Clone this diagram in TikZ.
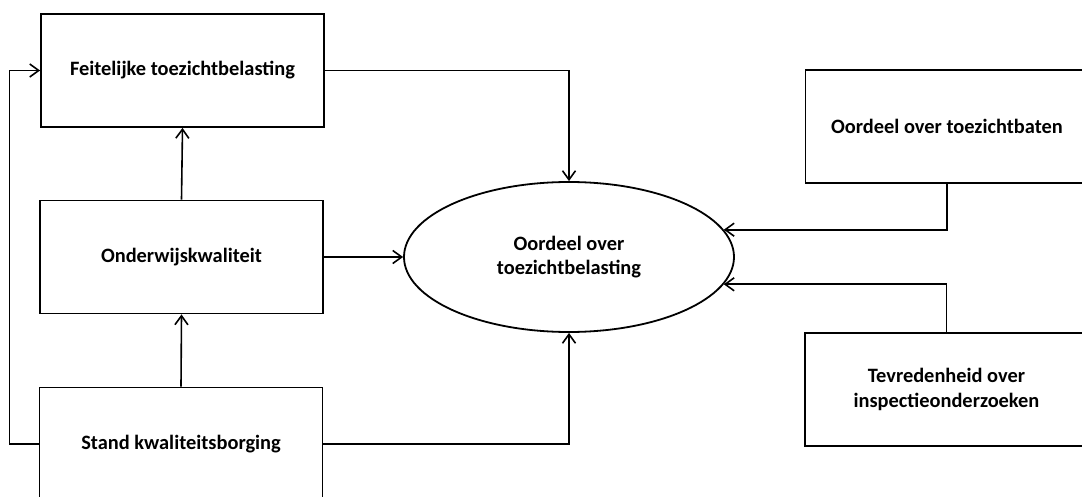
\documentclass[tikz,border=0pt]{standalone}
\usepackage{fontspec}
\setmainfont{Carlito}
\usetikzlibrary{shapes.geometric,arrows.meta}
\tikzstyle{blok}=[rectangle,draw,line width=1.8pt,minimum width=283pt,minimum height=113pt,align=center,inner sep=0pt,font=\bfseries\fontsize{20.4}{24.5}\selectfont]
\tikzstyle{pijl}=[line width=1.6pt,-{Straight Barb[length=9pt,width=13pt,line width=1.6pt]}]

\begin{document}
\begin{tikzpicture}[x=1pt,y=-1pt]
		\clip (0,0) rectangle (1082,497);
		\tikzstyle{oval}=[ellipse,draw,line width=1.8pt,minimum width=330pt,minimum height=150pt,align=center,inner sep=0pt,font=\bfseries\fontsize{20.4}{24.5}\selectfont]
		\node[blok] (feit) at (182.5, 70.5) {Feitelijke toezichtbelasting};
		\node[blok] (onder) at (181.5, 257) {Onderwijskwaliteit};
		\node[blok] (stand) at (181, 444) {Stand kwaliteitsborging};
		\node[oval] (oordeel) at (569, 257) {Oordeel over\\toezichtbelasting};
		\node[blok] (baten) at (947, 126.5) {Oordeel over toezichtbaten};
		\node[blok] (tevr) at (946.5, 389.5) {Tevredenheid over\\inspectieonderzoeken};
		
		\draw[pijl] (feit.east) -| (oordeel.north);
		\draw[pijl] (onder.east) -- (oordeel.west);
		\draw[pijl] (stand.east) -| (oordeel.south);
		\draw[pijl] (baten.south) |- (oordeel.10);
		\draw[pijl] (tevr.north) |- (oordeel.-10);
		\draw[pijl] (onder.north) -- (feit.south);
		\draw[pijl] (stand.north) -- (onder.south);
		\draw[pijl] (stand.west) -- ++(-29,0) |- (feit.west);
		\end{tikzpicture}
\end{document}
